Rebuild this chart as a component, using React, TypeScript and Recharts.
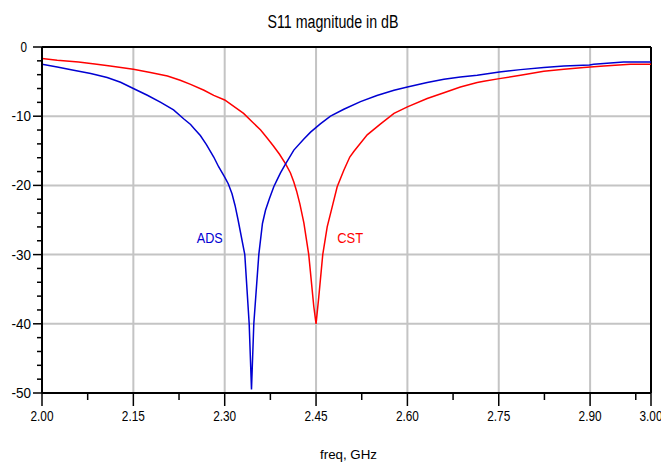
import React from 'react';
import { LineChart, Line, XAxis, YAxis, ReferenceLine, ReferenceDot } from 'recharts';

// ADS simulation (blue)
const adsFreq = [2.000, 2.025, 2.052, 2.080, 2.107, 2.129, 2.150, 2.173, 2.195, 2.216, 2.233, 2.244, 2.250, 2.260, 2.270, 2.282, 2.290, 2.300, 2.306, 2.312, 2.317, 2.322, 2.333, 2.3402, 2.344, 2.3478, 2.356, 2.362, 2.367, 2.3735, 2.3806, 2.386, 2.3916, 2.400, 2.4135, 2.430, 2.441, 2.457, 2.4737, 2.4956, 2.523, 2.550, 2.578, 2.600, 2.6325, 2.660, 2.687, 2.7146, 2.751, 2.7857, 2.824, 2.857, 2.899, 2.906, 2.955, 3.000];
const adsDb = [-2.5, -2.9, -3.36, -3.84, -4.4, -5.1, -6.0, -6.97, -8.0, -9.1, -10.4, -11.2, -11.8, -12.8, -14.1, -15.9, -17.3, -18.8, -19.8, -21.2, -22.9, -25.0, -30.0, -40.0, -49.5, -40.0, -30.0, -25.5, -23.6, -21.9, -20.2, -19.2, -18.2, -16.9, -14.9, -13.3, -12.3, -11.1, -10.0, -9.0, -7.9, -7.0, -6.25, -5.77, -5.14, -4.66, -4.33, -4.08, -3.6, -3.27, -2.98, -2.74, -2.6, -2.5, -2.16, -2.16];

// CST simulation (red)
const cstFreq = [2.000, 2.025, 2.060, 2.090, 2.112, 2.150, 2.178, 2.206, 2.227, 2.244, 2.266, 2.282, 2.300, 2.331, 2.345, 2.359, 2.370, 2.380, 2.390, 2.400, 2.408, 2.4135, 2.418, 2.4235, 2.430, 2.438, 2.4463, 2.450, 2.4545, 2.461, 2.4683, 2.4765, 2.4847, 2.4956, 2.5054, 2.512, 2.534, 2.556, 2.578, 2.600, 2.6325, 2.660, 2.687, 2.7146, 2.7255, 2.751, 2.7857, 2.824, 2.857, 2.8897, 2.9225, 2.966, 3.000];
const cstDb = [-1.67, -1.92, -2.16, -2.5, -2.74, -3.22, -3.7, -4.2, -4.8, -5.4, -6.25, -7.0, -7.65, -9.6, -10.8, -12.0, -13.2, -14.3, -15.5, -16.9, -18.2, -19.5, -20.8, -22.7, -25.4, -30.0, -37.5, -40.0, -36.1, -30.0, -26.0, -23.1, -20.2, -17.8, -15.9, -15.1, -12.7, -11.1, -9.6, -8.66, -7.45, -6.6, -5.77, -5.14, -4.95, -4.57, -4.08, -3.5, -3.22, -2.98, -2.74, -2.5, -2.5];

const xMajorTicks = [2.0, 2.15, 2.3, 2.45, 2.6, 2.75, 2.9, 3.0];
const xMinorTicks = [2.075, 2.225, 2.375, 2.525, 2.675, 2.825, 2.975];
const yMajorTicks = [0, -10, -20, -30, -40, -50];
const yMinorTicks = [-2, -4, -6, -8, -12, -14, -16, -18, -22, -24, -26, -28, -32, -34, -36, -38, -42, -44, -46, -48];

const title = 'S11 magnitude in dB';
const xLabel = 'freq, GHz';
const adsLabel = { name: 'ADS', f: 2.2754, db: -27.6 };
const cstLabel = { name: 'CST', f: 2.506, db: -27.6 };

const adsData = adsFreq.map((f, i) => ({ f, db: adsDb[i] }));
const cstData = cstFreq.map((f, i) => ({ f, db: cstDb[i] }));

const FONT = '"Liberation Sans", Arial, sans-serif';
const NARROW = 0.82;
const BLUE = '#0000d2';
const RED = '#ff0000';
const GRID = '#c4c4c4';

const isIn = (arr: number[], v: number) => arr.some((m) => Math.abs(m - v) < 1e-6);

const NarrowText = ({ x, y, size, anchor, fill, dy, width, children }: any) =>
  width ? (
    <text
      x={x}
      y={y}
      dy={dy}
      textAnchor={anchor}
      fontSize={size}
      fontFamily={FONT}
      fill={fill || '#000'}
      textLength={width}
      lengthAdjust="spacingAndGlyphs"
    >
      {children}
    </text>
  ) : (
    <text
      transform={`translate(${x},${y}) scale(${NARROW},1)`}
      x={0}
      y={0}
      dy={dy}
      textAnchor={anchor}
      fontSize={size}
      fontFamily={FONT}
      fill={fill || '#000'}
    >
      {children}
    </text>
  );

const XTick = (props: any) => {
  const { x, y, payload } = props;
  const v = payload.value;
  const major = isIn(xMajorTicks, v);
  return (
    <g>
      <line x1={x} y1={y} x2={x} y2={y + (major ? 13 : 7)} stroke="#000" strokeWidth={1.5} />
      {major && (
        <NarrowText x={x} y={y + 28} size={14} anchor="middle" width={23}>
          {v.toFixed(2)}
        </NarrowText>
      )}
    </g>
  );
};

const YTick = (props: any) => {
  const { x, y, payload } = props;
  const v = payload.value;
  const major = isIn(yMajorTicks, v);
  const label = String(v);
  return (
    <g>
      <line x1={x} y1={y} x2={x - (major ? 9 : 5)} y2={y} stroke="#000" strokeWidth={1.5} />
      {major && (
        <NarrowText
          x={x - (v === 0 ? 15 : 11)}
          y={y}
          dy="0.36em"
          size={14}
          anchor="end"
          width={label.length > 1 ? 19.5 : 6.5}
        >
          {label}
        </NarrowText>
      )}
    </g>
  );
};

const XAxisLabel = (props: any) => {
  const vb = props.viewBox || {};
  return (
    <NarrowText x={vb.x + vb.width / 2 + 2} y={vb.y + 66} size={13.5} anchor="middle" width={57}>
      {xLabel}
    </NarrowText>
  );
};

const makeCurveLabel = (text: string, color: string) => (props: any) => {
  const vb = props.viewBox || {};
  const cx = vb.cx !== undefined ? vb.cx : vb.x + (vb.width || 0) / 2;
  const cy = vb.cy !== undefined ? vb.cy : vb.y + (vb.height || 0) / 2;
  return (
    <NarrowText x={cx} y={cy} dy="0.36em" size={15} anchor="middle" fill={color} width={26}>
      {text}
    </NarrowText>
  );
};

const AdsLabel = makeCurveLabel(adsLabel.name, BLUE);
const CstLabel = makeCurveLabel(cstLabel.name, RED);

export default function App() {
  return (
    <div style={{ position: 'absolute', left: 0, top: 0, width: 661, height: 467, background: '#fff' }}>
      <LineChart width={661} height={467} margin={{ top: 47, right: 10, bottom: 0, left: 0 }}>
        <XAxis
          type="number"
          dataKey="f"
          domain={[2, 3]}
          ticks={[...xMajorTicks, ...xMinorTicks].sort((a, b) => a - b)}
          interval={0}
          allowDataOverflow
          height={74}
          tickSize={0}
          tickMargin={0}
          tickLine={false}
          axisLine={{ stroke: '#000', strokeWidth: 2 }}
          tick={<XTick />}
          label={<XAxisLabel />}
        />
        <YAxis
          type="number"
          dataKey="db"
          domain={[-50, 0]}
          ticks={[...yMajorTicks, ...yMinorTicks].sort((a, b) => b - a)}
          interval={0}
          allowDataOverflow
          width={42}
          tickSize={0}
          tickMargin={0}
          tickLine={false}
          axisLine={{ stroke: '#000', strokeWidth: 2 }}
          tick={<YTick />}
        />
        {xMajorTicks.slice(1, -1).map((v) => (
          <ReferenceLine key={'gx' + v} x={v} stroke={GRID} strokeWidth={2} zIndex={-50} />
        ))}
        {yMajorTicks.slice(1, -1).map((v) => (
          <ReferenceLine key={'gy' + v} y={v} stroke={GRID} strokeWidth={2} zIndex={-50} />
        ))}
        <ReferenceLine x={3} stroke="#000" strokeWidth={2} />
        <ReferenceLine y={0} stroke="#000" strokeWidth={2} />
        <Line data={cstData} dataKey="db" type="linear" stroke={RED} strokeWidth={1.5} dot={false} isAnimationActive={false} />
        <Line data={adsData} dataKey="db" type="linear" stroke={BLUE} strokeWidth={1.5} dot={false} isAnimationActive={false} />
        <ReferenceDot x={adsLabel.f} y={adsLabel.db} r={0} fill="none" stroke="none" label={<AdsLabel />} />
        <ReferenceDot x={cstLabel.f} y={cstLabel.db} r={0} fill="none" stroke="none" label={<CstLabel />} />
      </LineChart>
      <svg width={661} height={40} style={{ position: 'absolute', left: 0, top: 0, pointerEvents: 'none' }}>
        <NarrowText x={333} y={28} size={18} anchor="middle" width={131}>
          {title}
        </NarrowText>
      </svg>
    </div>
  );
}
